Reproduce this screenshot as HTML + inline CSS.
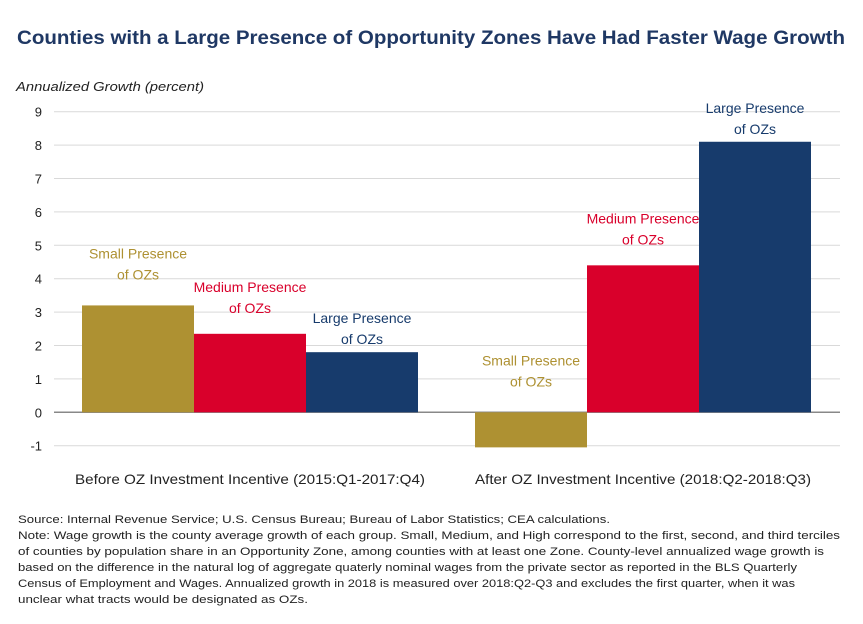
<!DOCTYPE html>
<html><head><meta charset="utf-8"><style>
html,body{margin:0;padding:0;background:#fff;}
svg{display:block;font-family:"Liberation Sans",sans-serif;}
</style></head><body>
<svg id="chart" width="863" height="624" viewBox="0 0 863 624">
<text x="431" y="44" text-anchor="middle" font-size="19" font-weight="bold" fill="#1f3864" textLength="828" lengthAdjust="spacingAndGlyphs">Counties with a Large Presence of Opportunity Zones Have Had Faster Wage Growth</text>
<text x="16" y="91" font-size="13" font-style="italic" fill="#222" textLength="188" lengthAdjust="spacingAndGlyphs">Annualized Growth (percent)</text>
<g id="grid"></g><g id="bars"></g><g id="labels"></g>
<g font-size="11" fill="#222">
<text x="18" y="523" textLength="592" lengthAdjust="spacingAndGlyphs">Source: Internal Revenue  Service;  U.S. Census Bureau;  Bureau  of Labor Statistics; CEA calculations.</text>
<text x="18" y="539" textLength="822" lengthAdjust="spacingAndGlyphs">Note:  Wage growth is the county average growth of each group. Small, Medium,  and High correspond  to the  first, second, and third terciles</text>
<text x="18" y="555" textLength="806" lengthAdjust="spacingAndGlyphs">of counties by population share in an Opportunity  Zone, among counties with at least one Zone.   County-level  annualized wage growth is</text>
<text x="18" y="571" textLength="779" lengthAdjust="spacingAndGlyphs">based on the difference  in the natural log of aggregate quaterly nominal wages from the private sector as reported  in the BLS Quarterly</text>
<text x="18" y="587" textLength="777" lengthAdjust="spacingAndGlyphs">Census of Employment  and Wages. Annualized growth in 2018  is measured  over 2018:Q2-Q3  and excludes  the first quarter, when it was</text>
<text x="18" y="603" textLength="290" lengthAdjust="spacingAndGlyphs">unclear what tracts would be designated as OZs.</text>
</g>
</svg>
<script>
const categories = ["Before OZ Investment Incentive (2015:Q1-2017:Q4)", "After OZ Investment Incentive (2018:Q2-2018:Q3)"];
const seriesNames = ["Small Presence", "Medium  Presence", "Large Presence"];
const smallValues = [3.2, -1.05];
const mediumValues = [2.35, 4.4];
const largeValues = [1.8, 8.1];
const yTicks = [-1, 0, 1, 2, 3, 4, 5, 6, 7, 8, 9];

const colors = ["#ae9132", "#d9002b", "#173b6c"];
const NS = "http://www.w3.org/2000/svg";
const y0 = 412.3, unit = 33.4;
function y(v){ return y0 - v*unit; }
const groupX = [82, 475], barW = 112;
function x(g, s){ return groupX[g] + s*barW; }
function mk(tag, attrs, parent){ const e=document.createElementNS(NS,tag); for(const k in attrs) e.setAttribute(k,attrs[k]); parent.appendChild(e); return e; }

const grid = document.getElementById('grid');
yTicks.forEach(t=>{
  const l = mk('line',{x1:54,x2:840,y1:y(t),y2:y(t),stroke:t===0?'#888':'#d9d9d9','stroke-width':t===0?1.5:1},grid);
  
  
  const tx = mk('text',{x:42,y:y(t)+5,'text-anchor':'end','font-size':13,fill:'#222'},grid);
  tx.textContent = t;
  
  
});

const bars = document.getElementById('bars');
const labels = document.getElementById('labels');
const series = [smallValues, mediumValues, largeValues];
const offs = [26, 21, 8];
series.forEach((vals, s)=>{
  vals.forEach((v, g)=>{
    const top = Math.min(y(v), y(0)), h = Math.abs(y(v)-y(0));
    const r = mk('rect',{x:x(g,s),y:top,width:barW,height:h,fill:colors[s]},bars);
    
    
    const cx = x(g,s)+barW/2;
    const ly = (v>=0 ? y(v) : y(0)) - offs[s];
    const t1 = mk('text',{x:cx,y:ly-21,'text-anchor':'middle','font-size':14,fill:colors[s]},labels);
    t1.textContent = seriesNames[s];
    
    
    const t2 = mk('text',{x:cx,y:ly,'text-anchor':'middle','font-size':14,fill:colors[s]},labels);
    t2.textContent = 'of OZs';
    
    
  });
});
const catW = [350, 336];
categories.forEach((c,g)=>{
  const t = mk('text',{x:x(g,0)+1.5*barW,y:484,'text-anchor':'middle','font-size':14,fill:'#222',textLength:catW[g],lengthAdjust:'spacingAndGlyphs'},labels);
  t.textContent = c;
  
  
});
</script>
</body></html>
